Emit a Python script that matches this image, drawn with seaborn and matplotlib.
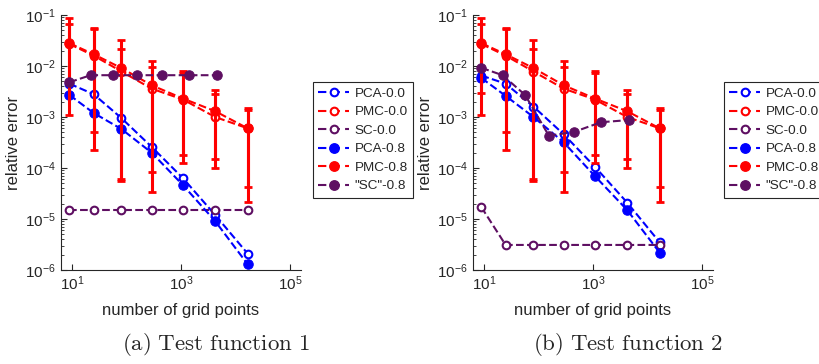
import numpy as np
import pandas as pd
import matplotlib
matplotlib.use("Agg")
import matplotlib.pyplot as plt
from matplotlib.ticker import FixedLocator, NullLocator, LogFormatterSciNotation, LogLocator
import seaborn as sns

### DATA

grid = [9, 25, 81, 289, 1089, 4225, 16641]
grid_sc08 = [9, 22, 57, 155, 450, 1400, 4500]
labels = ["PCA-0.0", "PMC-0.0", "SC-0.0", "PCA-0.8", "PMC-0.8", '"SC"-0.8']

# test function 1
f1_pca00 = [0.0045, 0.0028, 0.00095, 0.00026, 6.3e-5, 1.2e-5, 2.1e-6]
f1_pca08 = [0.0027, 0.0012, 0.00058, 0.00020, 4.6e-5, 9.1e-6, 1.3e-6]
f1_sc00 = [1.5e-5, 1.5e-5, 1.5e-5, 1.5e-5, 1.5e-5, 1.5e-5, 1.5e-5]
f1_sc08 = [0.0048, 0.0066, 0.0066, 0.0066, 0.0066, 0.0066, 0.0066]

# test function 2
f2_pca00 = [0.0065, 0.0045, 0.0016, 0.00046, 1.05e-4, 2.1e-5, 3.5e-6]
f2_pca08 = [0.0058, 0.0026, 0.0010, 0.00032, 6.9e-5, 1.5e-5, 2.2e-6]
f2_sc00 = [1.7e-5, 3.1e-6, 3.1e-6, 3.1e-6, 3.1e-6, 3.1e-6, 3.1e-6]
f2_sc08 = [0.0092, 0.0066, 0.0027, 0.00043, 0.00051, 0.00079, 0.00087]

# PMC is the same for both functions
pmc00 = [0.027, 0.016, 0.0078, 0.0036, 0.0022, 0.0010, 0.0006]
pmc00_lo = [0.0030, 0.00023, 5.5e-5, 3.4e-5, 1.25e-4, 1.0e-4, 2.2e-5]
pmc00_hi = [0.066, 0.054, 0.022, 0.0095, 0.0072, 0.0028, 0.0014]
pmc08 = [0.028, 0.017, 0.0091, 0.0042, 0.0023, 0.0013, 0.0006]
pmc08_lo = [0.0011, 0.00051, 6.0e-5, 8.3e-5, 1.8e-4, 1.5e-4, 4.3e-5]
pmc08_hi = [0.087, 0.056, 0.032, 0.0126, 0.0079, 0.0034, 0.0015]

BLUE = "#0000ff"
RED = "#ff0000"
PURPLE = "#5e0f62"

### STYLE

sns.set_style("ticks")
plt.rcParams["font.family"] = ["Liberation Sans", "DejaVu Sans"]
plt.rcParams["mathtext.fontset"] = "custom"
plt.rcParams["mathtext.rm"] = "Liberation Sans"
plt.rcParams["xtick.direction"] = "in"
plt.rcParams["ytick.direction"] = "in"

fig = plt.figure(figsize=(8.19, 3.64), dpi=100)
ax1 = fig.add_axes([61 / 819, 94 / 364, 240 / 819, 255 / 364])
ax2 = fig.add_axes([473 / 819, 94 / 364, 240 / 819, 255 / 364])


def draw_series(ax, x, y, color, filled, lo=None, hi=None):
    kw = dict(color=color, linestyle="--", dashes=(4, 2.5), linewidth=1.5, marker="o")
    if filled:
        kw.update(markersize=6.8, markerfacecolor=color, markeredgecolor=color)
    else:
        kw.update(markersize=5.5, markerfacecolor="white", markeredgecolor=color, markeredgewidth=1.5)
    if lo is not None:
        y_arr = np.array(y)
        yerr = [y_arr - np.array(lo), np.array(hi) - y_arr]
        ax.errorbar(x, y, yerr=yerr, fmt="none", ecolor=color, elinewidth=2.2,
                    capsize=3, capthick=2)
    sns.lineplot(x=x, y=y, ax=ax, **kw)


def make_panel(ax, pca00, sc00, pca08, sc08):
    draw_series(ax, grid, pca00, BLUE, False)
    draw_series(ax, grid, pmc00, RED, False, pmc00_lo, pmc00_hi)
    draw_series(ax, grid, sc00, PURPLE, False)
    draw_series(ax, grid, pca08, BLUE, True)
    draw_series(ax, grid, pmc08, RED, True, pmc08_lo, pmc08_hi)
    draw_series(ax, grid_sc08, sc08, PURPLE, True)

    ax.set_xscale("log")
    ax.set_yscale("log")
    ax.set_xlim(10 ** 0.8, 10 ** 5.2)
    ax.set_ylim(1e-6, 1e-1)
    ax.xaxis.set_major_locator(FixedLocator([10, 1000, 100000]))
    ax.xaxis.set_major_formatter(LogFormatterSciNotation())
    ax.xaxis.set_minor_locator(NullLocator())
    ax.yaxis.set_major_locator(LogLocator(base=10, numticks=10))
    ax.yaxis.set_minor_locator(LogLocator(base=10, subs=np.arange(2, 10), numticks=10))
    ax.tick_params(labelsize=11, colors="#262626", length=4)
    ax.tick_params(which="minor", length=2.5, colors="#262626")
    ax.set_xlabel("number of grid points", fontsize=12, color="#262626", labelpad=7)
    ax.set_ylabel("relative error", fontsize=12, color="#262626", labelpad=3)
    for s in ["top", "right"]:
        ax.spines[s].set_visible(False)
    for s in ["left", "bottom"]:
        ax.spines[s].set_color("#262626")
    if ax.get_legend() is not None:
        ax.get_legend().remove()


make_panel(ax1, f1_pca00, f1_sc00, f1_pca08, f1_sc08)
make_panel(ax2, f2_pca00, f2_sc00, f2_pca08, f2_sc08)

### LEGENDS

colors = [BLUE, RED, PURPLE, BLUE, RED, PURPLE]
fills = [False, False, False, True, True, True]
handles = []
for c, f in zip(colors, fills):
    if f:
        h = plt.Line2D([], [], color=c, linestyle="--", dashes=(4, 2.5), linewidth=1.5,
                       marker="o", markersize=6.8, markerfacecolor=c, markeredgecolor=c)
    else:
        h = plt.Line2D([], [], color=c, linestyle="--", dashes=(4, 2.5), linewidth=1.5,
                       marker="o", markersize=5.5, markerfacecolor="white",
                       markeredgecolor=c, markeredgewidth=1.5)
    handles.append(h)

for left in [313 / 819, 724 / 819]:
    leg = fig.legend(handles, labels, loc="upper left", bbox_to_anchor=(left, 1 - 82 / 364),
                     borderaxespad=0, fontsize=9.7, frameon=True, fancybox=False,
                     edgecolor="#262626", framealpha=1, handlelength=2.3,
                     handletextpad=0.4, labelspacing=0.45, borderpad=0.4)
    leg.get_frame().set_linewidth(0.8)

### CAPTIONS

fig.text(216 / 819, 1 - 345 / 364, r"$\mathrm{(a)\ Test\ function\ 1}$", ha="center",
         va="center", fontsize=16.5, math_fontfamily="cm")
fig.text(628 / 819, 1 - 345 / 364, r"$\mathrm{(b)\ Test\ function\ 2}$", ha="center",
         va="center", fontsize=16.5, math_fontfamily="cm")

fig.savefig("out.png", dpi=100)
